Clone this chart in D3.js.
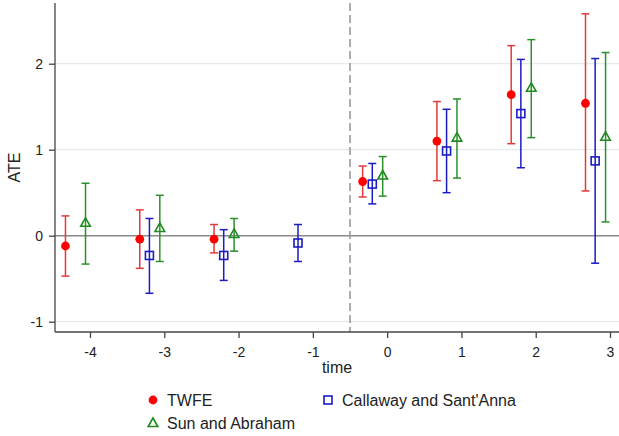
<!DOCTYPE html>
<html>
<head>
<meta charset="utf-8">
<script src="https://cdn.jsdelivr.net/npm/d3@7"></script>
<style>
  body { margin: 0; background: #fff; }
  svg { font-family: "Liberation Sans", Arial, sans-serif; }
</style>
</head>
<body>
<svg id="chart" width="619" height="436"></svg>
<script>
var times = [-4, -3, -2, -1, 0, 1, 2, 3];

// TWFE
var twfeEst = [-0.12, -0.04, -0.04, null, 0.63, 1.10, 1.64, 1.54];
var twfeLo = [-0.47, -0.38, -0.20, null, 0.45, 0.64, 1.07, 0.52];
var twfeHi = [0.23, 0.30, 0.13, null, 0.81, 1.56, 2.21, 2.58];

// Callaway and Sant'Anna
var csEst = [null, -0.23, -0.23, -0.085, 0.60, 0.985, 1.42, 0.87];
var csLo = [null, -0.67, -0.52, -0.30, 0.37, 0.50, 0.79, -0.32];
var csHi = [null, 0.20, 0.07, 0.13, 0.84, 1.47, 2.05, 2.06];

// Sun and Abraham
var saEst = [0.15, 0.09, 0.02, null, 0.70, 1.14, 1.72, 1.15];
var saLo = [-0.33, -0.30, -0.18, null, 0.46, 0.67, 1.14, 0.16];
var saHi = [0.61, 0.47, 0.20, null, 0.92, 1.59, 2.28, 2.13];

var yTicks = [-1, 0, 1, 2];
var xTicks = [-4, -3, -2, -1, 0, 1, 2, 3];
var treatLine = -0.5;

var series = [
    { name: 'TWFE', est: twfeEst, lo: twfeLo, hi: twfeHi, shift: -0.33, mark: '#ff0000', bar: '#e23a3a', shape: 'circle' },
    { name: "Callaway and Sant'Anna", est: csEst, lo: csLo, hi: csHi, shift: -0.2, mark: '#1c1cc4', bar: '#1c1cc4', shape: 'square' },
    { name: 'Sun and Abraham', est: saEst, lo: saLo, hi: saHi, shift: -0.06, mark: '#1f8a1f', bar: '#2a902a', shape: 'triangle' }
];

var margin = { top: 3, left: 55 };
var width = 564;
var height = 329;

var svg = d3.select('#chart');
var g = svg.append('g')
    .attr('transform', 'translate(' + margin.left + ',' + margin.top + ')');

var x = d3.scaleLinear().domain([-4.471, 3.121]).range([0, width]);
var y = d3.scaleLinear().domain([2.706, -1.12]).range([0, height]);

// grid lines
g.selectAll('.grid')
    .data(yTicks.filter(function (d) { return d !== 0; }))
    .enter()
    .append('line')
    .attr('x1', 0)
    .attr('x2', width)
    .attr('y1', function (d) { return y(d); })
    .attr('y2', function (d) { return y(d); })
    .attr('stroke', '#e4ebee')
    .attr('stroke-width', 1.2);

// zero line
g.append('line')
    .attr('x1', 0)
    .attr('x2', width)
    .attr('y1', y(0))
    .attr('y2', y(0))
    .attr('stroke', '#8a8a8a')
    .attr('stroke-width', 1.5);

// treatment line
g.append('line')
    .attr('x1', x(treatLine))
    .attr('x2', x(treatLine))
    .attr('y1', 0)
    .attr('y2', height)
    .attr('stroke', '#9a9a9a')
    .attr('stroke-width', 1.6)
    .attr('stroke-dasharray', '8,4');

// axes
var yAxis = g.append('g')
    .call(d3.axisLeft(y).tickValues(yTicks).tickSize(6).tickPadding(6)
        .tickFormat(function (d) { return String(d); }));
var xAxis = g.append('g')
    .attr('transform', 'translate(0,' + height + ')')
    .call(d3.axisBottom(x).tickValues(xTicks).tickSize(6).tickPadding(9)
        .tickFormat(function (d) { return String(d); }));

[yAxis, xAxis].forEach(function (a) {
    a.select('.domain').attr('stroke', '#444').attr('stroke-width', 1.3);
    a.selectAll('.tick line').attr('stroke', '#444').attr('stroke-width', 1.3);
    a.selectAll('.tick text').attr('fill', '#222').style('font-size', '14px');
});
// y axis domain without the end ticks
yAxis.select('.domain').attr('d', 'M0,0V' + height);
xAxis.select('.domain').attr('d', 'M0,0H' + width);

// axis titles
svg.append('text')
    .attr('x', margin.left + width / 2)
    .attr('y', 373)
    .attr('text-anchor', 'middle')
    .attr('fill', '#222')
    .style('font-size', '16px')
    .text('time');

svg.append('text')
    .attr('transform', 'translate(20,' + (margin.top + height / 2) + ') rotate(-90)')
    .attr('text-anchor', 'middle')
    .attr('fill', '#222')
    .style('font-size', '16px')
    .text('ATE');

function drawMarker(sel, shape, color) {
    if (shape === 'circle') {
        sel.append('circle').attr('r', 4.4).attr('fill', color);
    } else if (shape === 'square') {
        sel.append('rect').attr('x', -4).attr('y', -4).attr('width', 8).attr('height', 8)
            .attr('fill', 'none').attr('stroke', color).attr('stroke-width', 1.6);
    } else {
        sel.append('path').attr('d', 'M0,-5L4.8,3.5L-4.8,3.5Z')
            .attr('fill', 'none').attr('stroke', color).attr('stroke-width', 1.6);
    }
}

series.forEach(function (s) {
    var idx = times.map(function (t, i) { return i; }).filter(function (i) { return s.est[i] !== null; });
    var grp = g.append('g');

    var bars = grp.selectAll('.ci')
        .data(idx)
        .enter()
        .append('g')
        .attr('transform', function (i) { return 'translate(' + x(times[i] + s.shift) + ',0)'; });

    bars.append('line')
        .attr('y1', function (i) { return y(s.lo[i]); })
        .attr('y2', function (i) { return y(s.hi[i]); })
        .attr('stroke', s.bar)
        .attr('stroke-width', 1.5);
    bars.append('line')
        .attr('x1', -4).attr('x2', 4)
        .attr('y1', function (i) { return y(s.lo[i]); })
        .attr('y2', function (i) { return y(s.lo[i]); })
        .attr('stroke', s.bar)
        .attr('stroke-width', 1.5);
    bars.append('line')
        .attr('x1', -4).attr('x2', 4)
        .attr('y1', function (i) { return y(s.hi[i]); })
        .attr('y2', function (i) { return y(s.hi[i]); })
        .attr('stroke', s.bar)
        .attr('stroke-width', 1.5);

    grp.selectAll('.pt')
        .data(idx)
        .enter()
        .append('g')
        .attr('transform', function (i) { return 'translate(' + x(times[i] + s.shift) + ',' + y(s.est[i]) + ')'; })
        .each(function () { drawMarker(d3.select(this), s.shape, s.mark); });
});

// legend
var legendPos = [[153, 400], [328, 400], [153, 423]];
series.forEach(function (s, k) {
    var item = svg.append('g')
        .attr('transform', 'translate(' + legendPos[k][0] + ',' + legendPos[k][1] + ')');
    drawMarker(item, s.shape, s.mark);
    item.append('text')
        .attr('x', 14)
        .attr('y', 6)
        .attr('fill', '#222')
        .style('font-size', '16px')
        .text(s.name);
});
</script>
</body>
</html>
